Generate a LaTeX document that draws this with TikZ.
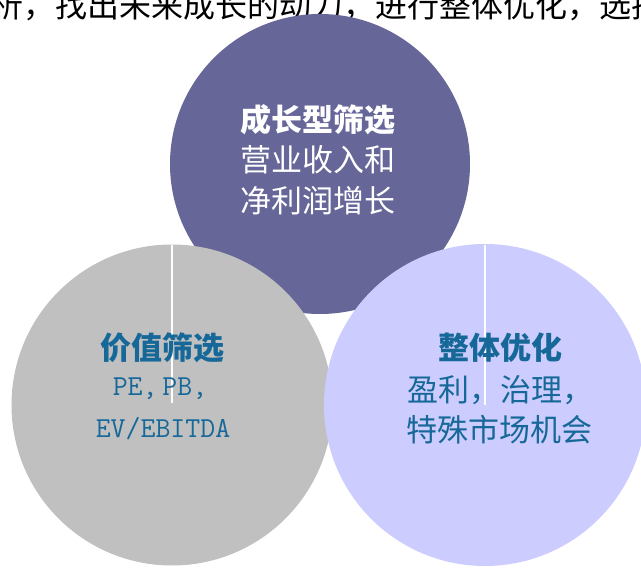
\documentclass[tikz,border=0pt]{standalone}
\usepackage{fontspec}
\newfontfamily\cjk{Noto Sans CJK SC}
\definecolor{purp}{HTML}{666699}
\definecolor{greyc}{HTML}{C0C0C0}
\definecolor{lav}{HTML}{CCCCFF}
\definecolor{bluetxt}{RGB}{22,104,152}
\tikzset{
  circ/.style={circle, draw=none, inner sep=0pt, minimum size=#1},
  head/.style={inner sep=0pt, font=\cjk\bfseries\fontsize{31}{31}\selectfont},
  body/.style={inner sep=0pt, font=\cjk\fontsize{31}{31}\selectfont},
  mono/.style={inner sep=0pt, font=\ttfamily\fontsize{29}{29}\selectfont},
  sep/.style={draw=white, line width=1.6pt}
}
\begin{document}
\begin{tikzpicture}[x=1pt,y=-1pt]
\useasboundingbox (0,0) rectangle (641,569);
\clip (0,0) rectangle (641,569);
\fill[white] (0,0) rectangle (641,569);
% line of text cropped at the top edge, as in the reference
\node[anchor=west, inner sep=0pt, font=\cjk\fontsize{32}{32}\selectfont] (toptext) at (-9,6) {析，找出未来成长的动力，进行整体优化，选择};
% circles
\node[circ=300pt, fill=purp] (cgrow) at (320,164) {};
\node[circ=321pt, fill=greyc] (cval) at (172,405) {};
\node[circ=322pt, fill=lav] (copt) at (485,405) {};
% thin white separators
\coordinate (vtop) at (172,245);
\coordinate (vbot) at (172,403);
\coordinate (otop) at (485,245);
\coordinate (obot) at (485,405);
\draw[sep] (vtop) -- (vbot);
\draw[sep] (otop) -- (obot);
% growth texts
\node[head, white] (g1) at (318,120) {成长型筛选};
\node[body, white] (g2) at (318,160) {营业收入和};
\node[body, white] (g3) at (318,201) {净利润增长};
% value texts
\node[head, bluetxt] (v1) at (162,348) {价值筛选};
\node[mono, bluetxt] (v2) at (160,389) {PE,\,PB,};
\node[mono, bluetxt] (v3) at (163,429) {EV/EBITDA};
% optimisation texts
\node[head, bluetxt] (o1) at (500,348) {整体优化};
\node[body, bluetxt] (o2) at (500,390) {盈利，治理，};
\node[body, bluetxt] (o3) at (499,430) {特殊市场机会};
\end{tikzpicture}
\end{document}
